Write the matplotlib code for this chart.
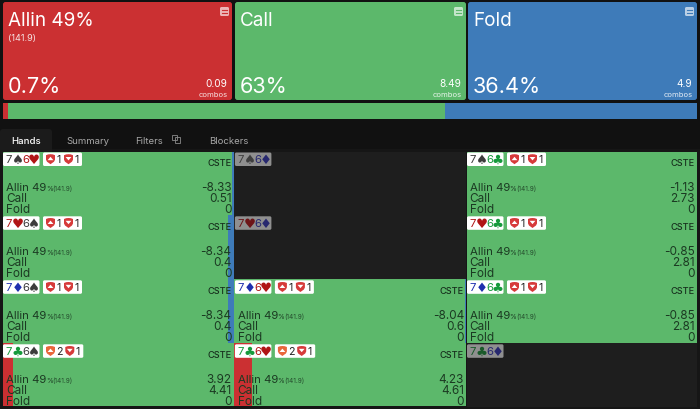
import matplotlib
matplotlib.use("Agg")
import matplotlib.pyplot as plt
from matplotlib.patches import FancyBboxPatch, Polygon, Rectangle

plt.rcParams['font.family'] = ['Inter', 'DejaVu Sans']

# ---- data ----
actions = ['Allin 49%', 'Call', 'Fold']
action_sub = ['(141.9)', '', '']
action_pct = [0.7, 63.0, 36.4]
action_combos = ['0.09', '8.49', '4.9']
tabs = ['Hands', 'Summary', 'Filters', 'Blockers']

hand_cards = [
    ['7s6h', '7s6d', '7s6c'],
    ['7h6s', '7h6d', '7h6c'],
    ['7d6s', '7d6h', '7d6c'],
    ['7c6s', '7c6h', '7c6d'],
]
active = [
    [True, False, True],
    [True, False, True],
    [True, True, True],
    [True, True, False],
]
allin_ev = [
    ['-8.33', '', '-1.13'],
    ['-8.34', '', '-0.85'],
    ['-8.34', '-8.04', '-0.85'],
    ['3.92', '4.23', ''],
]
call_ev = [
    ['0.51', '', '2.73'],
    ['0.4', '', '2.81'],
    ['0.4', '0.6', '2.81'],
    ['4.41', '4.61', ''],
]
fold_ev = [
    ['0', '', '0'],
    ['0', '', '0'],
    ['0', '0', '0'],
    ['0', '0', ''],
]
# strategy share of each hand, percent
allin_share = [
    [0, 0, 0],
    [0, 0, 0],
    [0, 0, 0],
    [4.4, 7.4, 0],
]
fold_share = [
    [0.7, 0, 0],
    [2.3, 0, 0],
    [2.3, 0.6, 0],
    [0, 0, 0],
]
blockers = [
    [1, 0, 1],
    [1, 0, 1],
    [1, 1, 1],
    [2, 2, 0],
]
blockers2 = [
    [1, 0, 1],
    [1, 0, 1],
    [1, 1, 1],
    [1, 1, 0],
]

# ---- style ----
RED, GREEN, BLUE = '#cb3032', '#5cb86b', '#3e7bb9'
BG = '#111111'
DARKCELL = '#1e1e1e'
INK = '#1b3a22'
SUIT = {'s': '\u2660', 'h': '\u2665', 'd': '\u2666', 'c': '\u2663'}
SUITCOL = {'s': '#3c3c3c', 'h': '#b01515', 'd': '#1f2fae', 'c': '#169a3c'}
SUITDIM = {'s': '#3f3f3f', 'h': '#6d1518', 'd': '#27286f', 'c': '#1a5a2a'}

fig = plt.figure(figsize=(7, 4.1), dpi=100, facecolor=BG)
ax = fig.add_axes([0, 0, 1, 1])
ax.set_xlim(0, 700)
ax.set_ylim(410, 0)
ax.axis('off')
renderer = fig.canvas.get_renderer()


def rrect(x0, y0, x1, y1, color, r=2, z=2, **kw):
    p = FancyBboxPatch((x0 + r, y0 + r), x1 - x0 - 2 * r, y1 - y0 - 2 * r,
                       boxstyle=f'round,pad={r},rounding_size={r}',
                       fc=color, ec='none', zorder=z, **kw)
    ax.add_patch(p)
    return p


def text_end(t):
    """Right edge of a drawn text, in picture pixels."""
    return t.get_window_extent(renderer).x1


# ---- top cards ----
card_x = [(3, 232), (235, 466), (468, 697)]
card_col = [RED, GREEN, BLUE]
for i, (x0, x1) in enumerate(card_x):
    rrect(x0, 3, x1, 101, card_col[i], r=2.5)
    ax.text(x0 + 5, 26, actions[i], color='white', fontsize=13.6, va='baseline', zorder=4)
    if action_sub[i]:
        ax.text(x0 + 5, 41, action_sub[i], color='#f6e2e2', fontsize=6.6, va='baseline', zorder=4)
    ax.text(x0 + 5, 93, f'{action_pct[i]:g}%', color='white', fontsize=15.6, va='baseline', zorder=4)
    ax.text(x1 - 4.5, 87, action_combos[i], color='white', fontsize=7.2, ha='right', va='baseline', zorder=4)
    ax.text(x1 - 4.5, 97, 'combos', color='white', alpha=0.85, fontsize=5.5, ha='right', va='baseline', zorder=4)
    # note icon
    ix, iy = x1 - 12, 8
    rrect(ix, iy, ix + 9, iy + 9, '#ffffff', r=1.5, z=3, alpha=0.65)
    ax.plot([ix + 2, ix + 7], [iy + 3, iy + 3], color=card_col[i], lw=0.8, zorder=3.2)
    ax.plot([ix + 2, ix + 7], [iy + 6, iy + 6], color=card_col[i], lw=0.8, zorder=3.2)

# ---- strategy strip ----
SX0, SW = 3, 694
left = SX0
for pct, col in zip(action_pct, card_col):
    w = SW * pct / sum(action_pct)
    ax.barh(112, w, left=left, height=16, color=col, zorder=2, linewidth=0)
    left += w

# ---- tabs ----
ax.add_patch(Rectangle((0, 150), 700, 260, fc='#161616', ec='none', zorder=0.5))
rrect(0, 130, 52, 156, '#1b1b1b', r=3, z=1)
tab_x = [11.5, 66.5, 135.5, 209.5]
tab_col = ['white', '#a8a8a8', '#a8a8a8', '#a8a8a8']
for t, x, c in zip(tabs, tab_x, tab_col):
    ax.text(x, 144, t, color=c, fontsize=6.9, va='baseline',
            fontweight='medium' if t == 'Hands' else 'normal', zorder=4)
ax.add_patch(Rectangle((171.5, 135.5), 5.5, 5.5, fc='none', ec='#8a8a8a', lw=0.6, zorder=4))
ax.add_patch(Rectangle((174.5, 138), 5.5, 5.5, fc='none', ec='#8a8a8a', lw=0.6, zorder=4))

# ---- hand grid ----
col_x = [(3, 233.6), (234.4, 466), (466.5, 697)]
row_y = [(152.5, 215.7), (216.3, 279.7), (280.3, 343.7), (344.3, 407.5)]


def shield(x, y, col, up):
    pts = [(x, y + 1), (x + 2.2, y + 0.2), (x + 4.5, y), (x + 6.8, y + 0.2), (x + 9, y + 1),
           (x + 9, y + 5.5), (x + 8, y + 7.5), (x + 4.5, y + 10), (x + 1, y + 7.5), (x, y + 5.5)]
    ax.add_patch(Polygon(pts, closed=True, fc=col, ec='none', zorder=5))
    if up:
        tri = [(x + 1.6, y + 6), (x + 4.5, y + 2.6), (x + 7.4, y + 6)]
    else:
        tri = [(x + 1.6, y + 2.8), (x + 7.4, y + 2.8), (x + 4.5, y + 6.2)]
    ax.add_patch(Polygon(tri, closed=True, fc='white', ec='none', zorder=6))


for r, (y0, y1) in enumerate(row_y):
    for c, (x0, x1) in enumerate(col_x):
        cards = hand_cards[r][c]
        on = active[r][c]
        h = y1 - y0
        W = x1 - x0
        ymid = (y0 + y1) / 2
        if on:
            a = allin_share[r][c]
            f = fold_share[r][c]
            g = 100 - a - f
            cum = x0
            for share, col in zip((a, g, f), (RED, GREEN, BLUE)):
                if share > 0:
                    ax.barh(ymid, W * share / 100, left=cum, height=h, color=col, linewidth=0, zorder=2)
                cum += W * share / 100
        else:
            ax.add_patch(Rectangle((x0, y0), W, h, fc=DARKCELL, ec='none', zorder=2))
        # hand badge
        bx = x0 + (0.5 if c else 0)
        rrect(bx, y0 + 1, bx + 36.5, y0 + 14.5, 'white' if on else '#8f8f8f', r=1.5, z=4)
        cmap = SUITCOL if on else SUITDIM
        xs = [bx + 2.8, bx + 8.5, bx + 19, bx + 24.5]
        for k in (0, 2):
            rank, suit = cards[k], cards[k + 1]
            ax.text(xs[k], y0 + 11, rank, color=cmap[suit], fontsize=8.2, va='baseline', zorder=6)
            ax.text(xs[k + 1], y0 + 11.5, SUIT[suit], color=cmap[suit], fontsize=9.6, va='baseline',
                    family='DejaVu Sans', zorder=6)
        if not on:
            continue
        # blocker badge
        n1, n2 = blockers[r][c], blockers2[r][c]
        b0 = bx + 40
        extra = 1.3 if n1 == 2 else 0
        rrect(b0, y0 + 1, b0 + 39 + extra, y0 + 14.5, 'white', r=1.5, z=4)
        shield(b0 + 3, y0 + 2.7, '#e8673b' if n1 == 2 else '#d63a3a', True)
        ax.text(b0 + 13.5, y0 + 11, str(n1), color='#222222', fontsize=7.6, va='baseline', zorder=6)
        shield(b0 + 21 + extra, y0 + 2.7, '#d63a3a', False)
        ax.text(b0 + 31.5 + extra, y0 + 11, str(n2), color='#222222', fontsize=7.6, va='baseline', zorder=6)
        # text rows
        tx = x0 + 3.2
        rx = x1 - 2
        ax.text(rx, y0 + 14, 'CSTE', color='#17301d', fontsize=6.6, fontweight='medium', ha='right', va='baseline', zorder=5)
        lab = ax.text(tx, y0 + 38.5, 'Allin 49', color=INK, fontsize=8.2, va='baseline', zorder=5)
        e1 = text_end(lab)
        pct_t = ax.text(e1 - 0.6, y0 + 38.5, '%', color=INK, fontsize=5, va='baseline', zorder=5)
        e2 = text_end(pct_t)
        ax.text(e2 - 0.2, y0 + 38.5, '(141.9)', color=INK, fontsize=4.7, alpha=0.85, va='baseline', zorder=5)
        ax.text(tx, y0 + 49.5, 'Call', color=INK, fontsize=8.5, va='baseline', zorder=5)
        ax.text(tx, y0 + 60.5, 'Fold', color=INK, fontsize=8.5, va='baseline', zorder=5)
        ax.text(rx, y0 + 38.5, allin_ev[r][c], color=INK, fontsize=8.5, ha='right', va='baseline', zorder=5)
        ax.text(rx, y0 + 49.5, call_ev[r][c], color=INK, fontsize=8.5, ha='right', va='baseline', zorder=5)
        ax.text(rx, y0 + 60.5, fold_ev[r][c], color=INK, fontsize=8.5, ha='right', va='baseline', zorder=5)

fig.savefig('out.png', dpi=100, facecolor=BG)
